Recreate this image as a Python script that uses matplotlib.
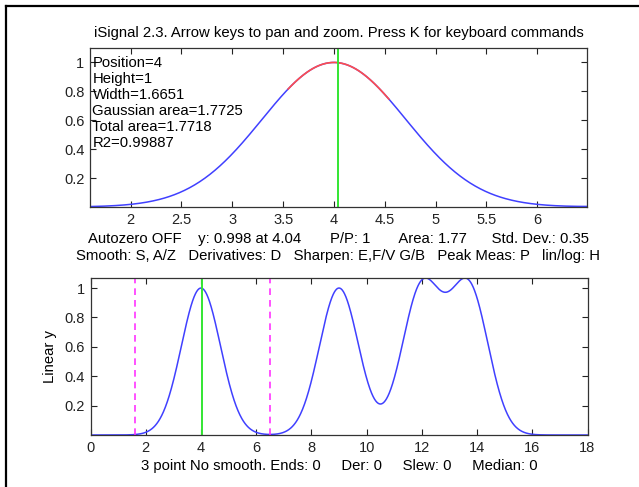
import numpy as np
import matplotlib
matplotlib.use('Agg')
import matplotlib.pyplot as plt
from matplotlib.lines import Line2D

plt.rcParams['font.family'] = ['Liberation Sans', 'DejaVu Sans']

# peaks in the signal
peak_pos = [4, 9, 12, 13.7]
peak_height = [1, 1, 1, 1]
peak_width = [1.6651, 1.6651, 1.6651, 1.6651]

x_range = [0, 18]
zoom_range = [1.6, 6.49]
fit_range = [3.55, 4.54]
cursor_x = 4.04

top_xticks = [2, 2.5, 3, 3.5, 4, 4.5, 5, 5.5, 6]
bottom_xticks = [0, 2, 4, 6, 8, 10, 12, 14, 16, 18]
yticks = [0.2, 0.4, 0.6, 0.8, 1]

title = 'iSignal 2.3. Arrow keys to pan and zoom. Press K for keyboard commands'
info_lines = ['Position=4', 'Height=1', 'Width=1.6651', 'Gaussian area=1.7725',
              'Total area=1.7718', 'R2=0.99887']
status1 = 'Autozero OFF    y: 0.998 at 4.04       P/P: 1       Area: 1.77      Std. Dev.: 0.35'
status2 = 'Smooth: S, A/Z   Derivatives: D   Sharpen: E,F/V G/B   Peak Meas: P   lin/log: H'
bottom_label = '3 point No smooth. Ends: 0     Der: 0     Slew: 0     Median: 0'

x = np.linspace(x_range[0], x_range[1], 1801)
y = np.zeros_like(x)
for p, h, w in zip(peak_pos, peak_height, peak_width):
    y += h * np.exp(-((x - p) / (0.6006 * w)) ** 2)

blue = (0.25, 0.25, 1.0)
fs = 10.7
tfs = 10.5

fig = plt.figure(figsize=(6.39, 4.87), dpi=100)

# frame of the window (left and top edges only)
fig.add_artist(Line2D([5.5 / 639, 5.5 / 639], [0, 1 - 6 / 487], color='black', lw=1.6,
                      transform=fig.transFigure))
fig.add_artist(Line2D([5.5 / 639, 1], [1 - 6 / 487, 1 - 6 / 487], color='black', lw=1.6,
                      transform=fig.transFigure))

ax1 = fig.add_axes([90 / 639, 1 - 207 / 487, 497 / 639, 159 / 487])
ax2 = fig.add_axes([90.5 / 639, 1 - 435 / 487, 497 / 639, 157 / 487])

# top panel: zoomed region
m = (x >= zoom_range[0]) & (x <= zoom_range[1])
ax1.plot(x[m], y[m], color=blue, lw=1.1)
f = (x >= fit_range[0]) & (x <= fit_range[1])
ax1.plot(x[f], y[f], color=(1.0, 0.3, 0.3), lw=1.2)
ax1.axvline(cursor_x, color=(0.2, 0.9, 0.2), lw=1.4)
ax1.set_xlim(zoom_range)
ax1.set_ylim(0, 1.1)
ax1.set_xticks(top_xticks)
ax1.set_xticklabels(['%g' % t for t in top_xticks])
ax1.set_title(title, fontsize=fs, pad=8)
ax1.text(0.005, 0.947, '\n'.join(info_lines), transform=ax1.transAxes, fontsize=fs,
         va='top', ha='left', linespacing=1.17)
ax1.set_xlabel(status1 + '\n' + status2, fontsize=fs, labelpad=4, linespacing=1.3)

# bottom panel: full signal
ax2.plot(x, y, color=blue, lw=1.1)
for xv in zoom_range:
    ax2.axvline(xv, color=(1.0, 0.2, 1.0), lw=1.2, dashes=(4, 3))
ax2.axvline(cursor_x, color=(0.2, 0.9, 0.2), lw=1.4)
ax2.set_xlim(x_range)
ax2.set_ylim(0, y.max())
ax2.set_xticks(bottom_xticks)
ax2.set_xlabel(bottom_label, fontsize=fs, labelpad=3)
ax2.set_ylabel('Linear y', fontsize=fs, labelpad=5.5)

for ax in (ax1, ax2):
    ax.set_yticks(yticks)
    ax.set_yticklabels(['%g' % t for t in yticks])
    ax.tick_params(direction='in', top=True, right=True, length=4, width=0.8,
                   labelsize=tfs, colors='#222222', pad=4)
    for s in ax.spines.values():
        s.set_color('#333333')
        s.set_linewidth(0.9)

fig.savefig('out.png', dpi=100)
